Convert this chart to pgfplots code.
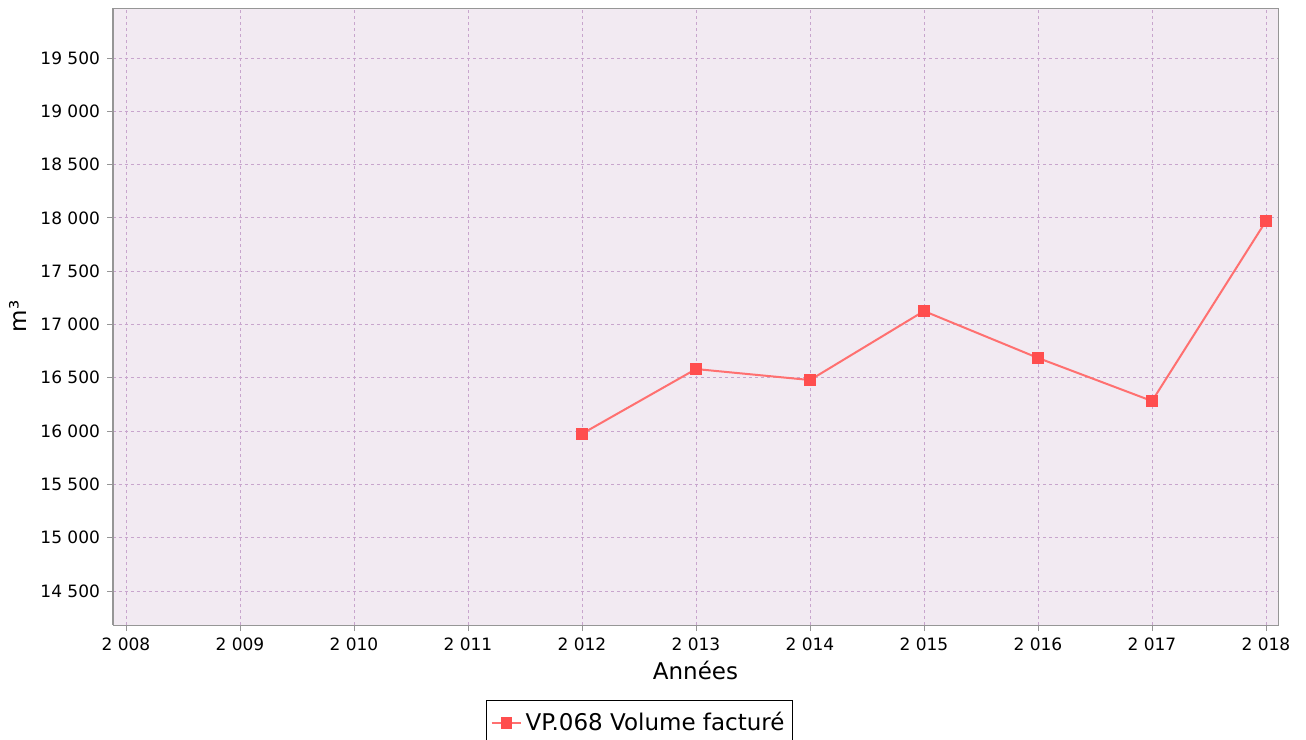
\documentclass[border=0pt]{standalone}
\usepackage{fontspec}
\setmainfont{DejaVu Sans}
\usepackage{pgfplots}
\pgfplotsset{compat=1.18}

\definecolor{bgplot}{RGB}{242,234,242}
\definecolor{gridc}{RGB}{200,165,205}
\definecolor{serie}{RGB}{255,112,112}
\definecolor{marque}{RGB}{255,78,78}
\definecolor{cadre}{RGB}{150,150,150}

\begin{document}
\begin{tikzpicture}
\begin{axis}[
    name=ax,
    scale only axis,
    width=582.5pt, height=308.5pt,
    xmin=2007.886, xmax=2018.105,
    ymin=14181, ymax=19969,
    xtick={2008,2009,...,2018},
    ytick={14500,15000,...,19500},
    scaled ticks=false,
    /pgf/number format/assume math mode=true,
    /pgf/number format/1000 sep={\ },
    tick label style={font=\fontsize{8.5}{10}\selectfont},
    label style={font=\fontsize{11.5}{13}\selectfont},
    xlabel={Années},
    ylabel={m³},
    xlabel style={yshift=2pt},
    axis background/.style={fill=bgplot},
    axis line style={cadre},
    tick style={cadre, thin},
    tick align=outside,
    major tick length=3pt,
    xtick pos=bottom, ytick pos=left,
    grid=major,
    major grid style={gridc, dash pattern=on 1.5pt off 1.5pt, thin},
    legend style={at={(0.452,-0.1216)}, anchor=north, draw=black,
        font=\fontsize{11.5}{13}\selectfont, inner xsep=2pt, inner ysep=4pt},
    legend cell align=left,
    legend image post style={xscale=0.85},
]
\addplot[serie, line width=1pt, mark=square*, mark size=2.6pt,
    mark options={draw=marque, fill=marque}]
    coordinates {
    (2012,15975) (2013,16582) (2014,16479) (2015,17126)
    (2016,16686) (2017,16282) (2018,17971)
    };
\addlegendentry{VP.068 Volume facturé}
\end{axis}
\draw[cadre, line width=1.2pt] (ax.south west) -- (ax.north west);
\pgfresetboundingbox
\path ([xshift=-56.5pt,yshift=-57pt]ax.south west) rectangle ([xshift=14pt,yshift=4pt]ax.north east);
\end{tikzpicture}
\end{document}
